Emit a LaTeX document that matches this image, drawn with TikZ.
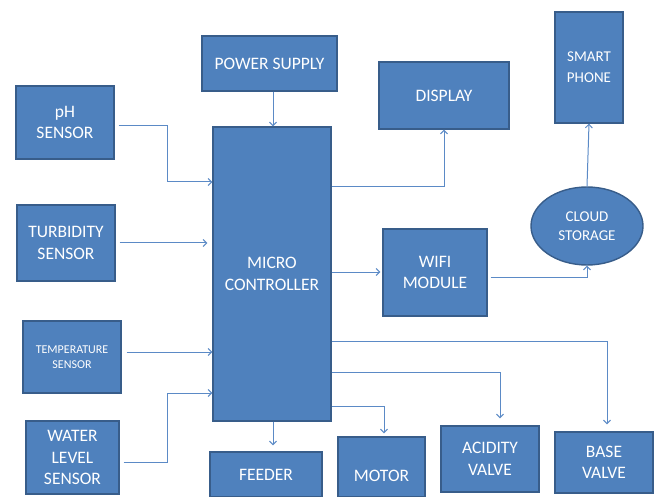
\documentclass[tikz,border=0pt]{standalone}
\usepackage{fontspec}
\setmainfont{Carlito}
\usepackage{xcolor}
\usepackage{tikz}
\usetikzlibrary{arrows.meta,shapes.geometric}

\definecolor{boxfill}{HTML}{4F81BD}
\definecolor{boxline}{HTML}{385D8A}
\definecolor{wireblue}{HTML}{5B8AC6}

\tikzset{
  blk/.style={draw=boxline, line width=1.4pt, fill=boxfill, text=white, align=center,
              inner sep=2pt, font=\fontsize{17.5}{21.5}\selectfont},
  wire/.style={draw=wireblue, line width=1pt, -{Straight Barb[length=3.5pt,width=7pt]}}
}

\begin{document}
\begin{tikzpicture}[x=1pt,y=-1pt]
            \useasboundingbox (0,0) rectangle (656,497);

            \node[blk, minimum width=98pt, minimum height=73pt] (ph) at (65,122.5) {pH\\SENSOR};
            \node[blk, minimum width=98pt, minimum height=76pt] (turb) at (66,243) {TURBIDITY\\SENSOR};
            \node[blk, minimum width=98pt, minimum height=72pt, font=\fontsize{12}{15}\selectfont] (temp) at (72,357) {TEMPERATURE\\SENSOR};
            \node[blk, minimum width=93pt, minimum height=73pt] (water) at (72.5,457.5) {WATER\\LEVEL\\SENSOR};

            \node[blk, minimum width=135pt, minimum height=55pt] (power) at (269.5,63.5) {POWER SUPPLY};
            \node[blk, minimum width=118pt, minimum height=294pt] (mc) at (272,274) {MICRO\\CONTROLLER};

            \node[blk, minimum width=130pt, minimum height=67pt] (display) at (444,95.5) {DISPLAY};
            \node[blk, minimum width=68pt, minimum height=111pt, font=\fontsize{15}{21}\selectfont] (phone) at (589,67.5) {SMART\\PHONE};
            \node[blk, ellipse, minimum width=112pt, minimum height=78pt, font=\fontsize{15}{19}\selectfont] (cloud) at (587,226) {CLOUD\\STORAGE};
            \node[blk, minimum width=104pt, minimum height=87pt] (wifi) at (435,272.5) {WIFI\\MODULE};

            \node[blk, minimum width=112pt, minimum height=45pt] (feeder) at (266,474.5) {FEEDER};
            \node[blk, minimum width=87pt, minimum height=60pt] (motor) at (381.5,467) {\raisebox{-14pt}[0pt][0pt]{MOTOR}};
            \node[blk, minimum width=98pt, minimum height=66pt] (acid) at (490,459) {ACIDITY\\VALVE};
            \node[blk, minimum width=98pt, minimum height=61pt] (base) at (604,462.5) {BASE\\VALVE};

            \draw[wire] ([xshift=4pt,yshift=-3.5pt]ph.east) -| (167,182) -- (mc.west |- 0,182);
            \draw[wire, shorten >=5pt] ([xshift=4pt]turb.east) -- (mc.west |- turb.east);
            \draw[wire] ([xshift=5pt,yshift=5pt]temp.east) -- (mc.west |- 0,352);
            \draw[wire] ([xshift=4pt,yshift=-4.5pt]water.east) -| (167,393) -- (mc.west |- 0,393);

            \draw[wire] ([xshift=3.5pt]power.south) -- ([xshift=3.5pt]power.south |- mc.north);
            \draw[wire] (mc.east |- 0,187) -| (display.south);
            \draw[wire, shorten >=2pt] (mc.east |- 0,272) -- (wifi.west |- 0,272);
            \draw[wire] ([xshift=3pt,yshift=-4.5pt]wifi.east) -| (cloud.south);
            \draw[wire] (cloud.north) -- (phone.south);

            \draw[wire, shorten >=6pt] ([xshift=1pt]mc.south) -- ([xshift=1pt]mc.south |- feeder.north);
            \draw[wire, shorten >=3pt] (mc.east |- 0,406) -| ([xshift=2.5pt]motor.north);
            \draw[wire, shorten >=7pt] (mc.east |- 0,372) -| ([xshift=10pt]acid.north);
            \draw[wire, shorten >=7pt] (mc.east |- 0,341) -| ([xshift=3pt]base.north);
         \end{tikzpicture}
\end{document}
